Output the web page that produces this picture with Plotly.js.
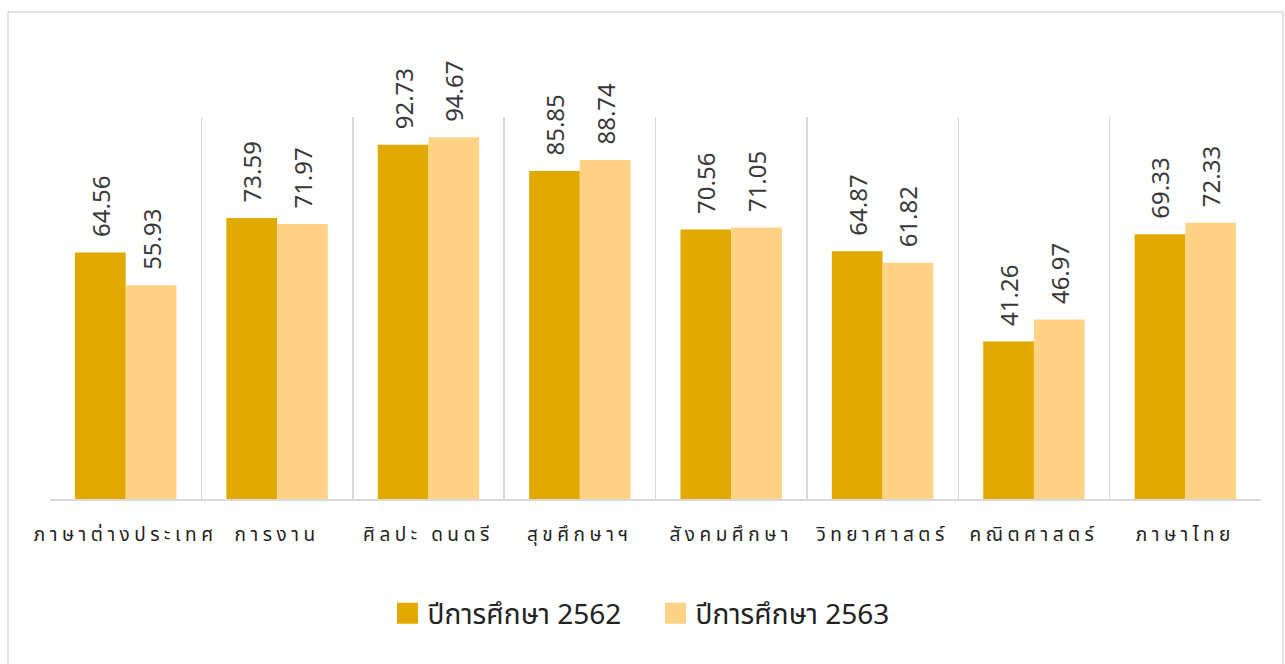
<!DOCTYPE html>
<html>
<head>
<meta charset="utf-8">
<script src="https://cdn.plot.ly/plotly-3.0.1.min.js"></script>
<style>
html,body{margin:0;padding:0;background:#fff;}
#chart{width:1285px;height:664px;}
#chart .xtick text{letter-spacing:4.5px;}
#chart .legend .traces:nth-child(1) .legendpoints path{stroke:#E2AA00 !important;stroke-width:9px !important;stroke-opacity:1 !important;}
#chart .legend .traces:nth-child(2) .legendpoints path{stroke:#FFD285 !important;stroke-width:9px !important;stroke-opacity:1 !important;}
</style>
</head>
<body>
<div id="chart"></div>
<script>
const categories = ["ภาษาต่างประเทศ", "การงาน", "ศิลปะ ดนตรี", "สุขศึกษาฯ", "สังคมศึกษา", "วิทยาศาสตร์", "คณิตศาสตร์", "ภาษาไทย"];
const values2562 = [64.56, 73.59, 92.73, 85.85, 70.56, 64.87, 41.26, 69.33];
const values2563 = [55.93, 71.97, 94.67, 88.74, 71.05, 61.82, 46.97, 72.33];
const seriesNames = ["ปีการศึกษา 2562", "ปีการศึกษา 2563"];

const fontFamily = '"Noto Sans", "Noto Sans Thai", "DejaVu Sans", sans-serif';

function barTrace(name, vals, color) {
  return {
    type: 'bar',
    name: name,
    x: categories,
    y: vals,
    marker: {color: color},
    text: vals.map(v => '\u00a0\u00a0' + v.toFixed(2)),
    textposition: 'outside',
    textangle: -90,
    constraintext: 'none',
    cliponaxis: false,
    textfont: {family: fontFamily, size: 24, color: '#383838'},
    hoverinfo: 'x+y'
  };
}

const data = [
  barTrace(seriesNames[0], values2562, '#E2AA00'),
  barTrace(seriesNames[1], values2563, '#FFD285')
];

const layout = {
  width: 1285,
  height: 664,
  margin: {l: 50, r: 24, t: 117, b: 165},
  paper_bgcolor: '#fff',
  plot_bgcolor: '#fff',
  barmode: 'group',
  bargap: 0.33,
  bargroupgap: 0,
  showlegend: true,
  legend: {
    orientation: 'h',
    x: 0.5, xanchor: 'center',
    y: -0.30, yanchor: 'middle',
    font: {family: fontFamily, size: 28, color: '#222'},
    itemwidth: 30,
    entrywidth: 223,
    entrywidthmode: 'pixels',
    traceorder: 'normal'
  },
  xaxis: {
    type: 'category',
    tickson: 'boundaries',
    showgrid: true,
    gridcolor: '#D9D9D9',
    gridwidth: 1.5,
    showline: true,
    linecolor: '#D9D9D9',
    linewidth: 1.5,
    mirror: false,
    ticks: '',
    tickfont: {family: fontFamily, size: 19, color: '#222'},
    ticklabelstandoff: 18
  },
  yaxis: {
    range: [0, 100],
    showgrid: false,
    zeroline: false,
    showticklabels: false,
    ticks: '',
    showline: false
  },
  shapes: [{
    type: 'rect', xref: 'paper', yref: 'paper',
    x0: (8 - 50) / 1211, x1: (1283 - 50) / 1211,
    y0: -(664 - 499 + 10) / 382, y1: 1 + (117 - 12) / 382,
    line: {color: '#D9D9D9', width: 1.5},
    fillcolor: 'rgba(0,0,0,0)',
    layer: 'below'
  }]
};

Plotly.newPlot('chart', data, layout, {displayModeBar: false, staticPlot: true});
</script>
</body>
</html>
